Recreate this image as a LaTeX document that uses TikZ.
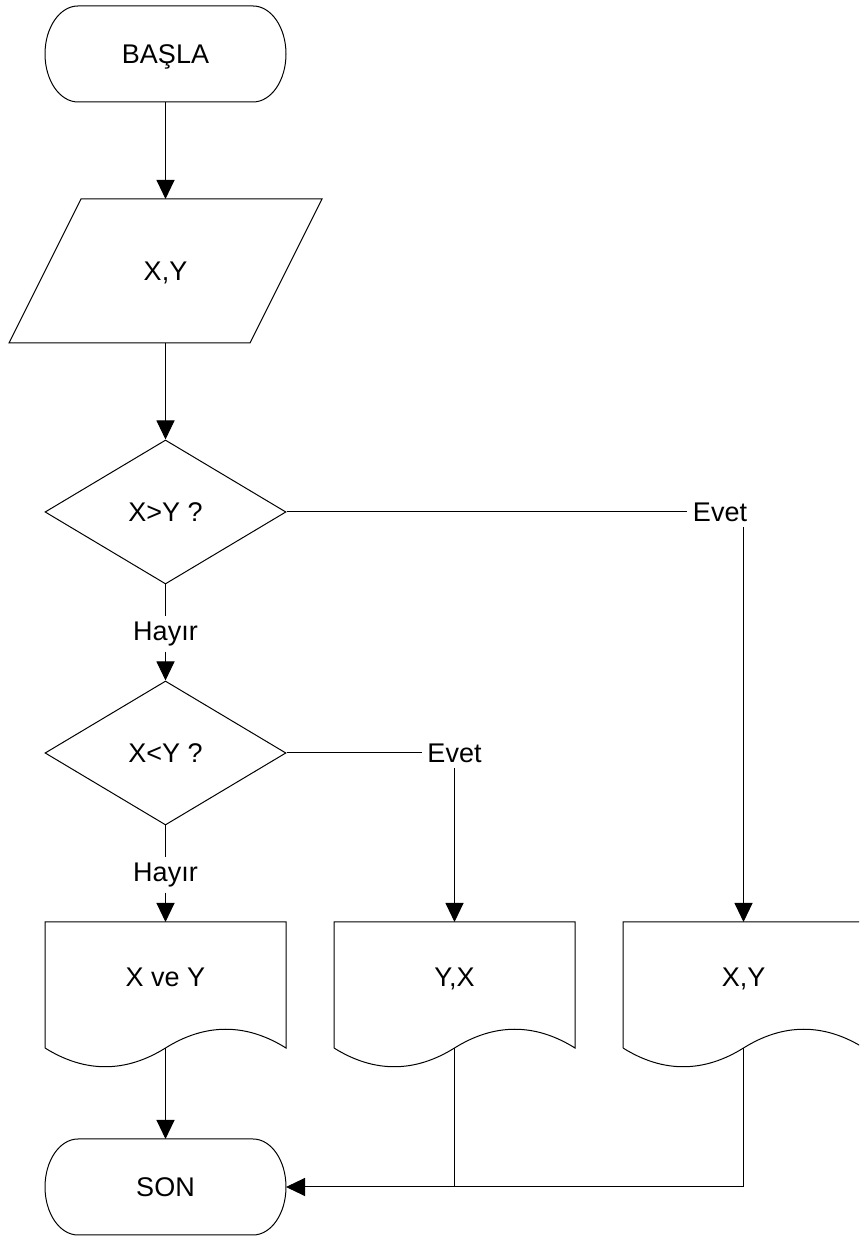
\documentclass[tikz,border=0pt]{standalone}
\usepackage{fontspec}
\setmainfont{Liberation Sans}
\usetikzlibrary{arrows.meta,shapes.geometric}

\tikzset{
	box/.style={rectangle,outer sep=0pt,inner sep=0pt,minimum width=241pt,text height=19.5pt,text depth=0pt},
	term/.style={box,minimum height=96pt},
	inbox/.style={box,minimum height=144pt},
	docbox/.style={box,minimum height=110pt},
	decision/.style={diamond,draw,inner sep=0pt,minimum width=241pt,minimum height=144pt},
	answer/.style={inner sep=5pt},
	flow/.style={-{Triangle[length=19pt,width=18pt]}}
}

\begin{document}
\begin{tikzpicture}[x=1pt,y=1pt,line width=1pt,font=\fontsize{27}{32}\selectfont]
		\clip (0,0) rectangle (859,1236);
%		\draw[help lines] (0,0) grid[step=50] (859,1236);
		\path (165.5,1182) coordinate (start);
		\path (165.5,965) coordinate (input);
		\path (165.5,724) coordinate (test1);
		\path (720,724) coordinate (yes1);
		\path (165.5,602) coordinate (no1);
		\path (165.5,483) coordinate (test2);
		\path (454.5,483) coordinate (yes2);
		\path (165.5,361) coordinate (no2);
		\path (165.5,259) coordinate (out1);
		\path (454.5,259) coordinate (out2);
		\path (743.5,259) coordinate (out3);
		\path (165.5,49) coordinate (stop);

		\draw (start) node[term] (basla) {BAŞLA};
		\draw (input) node[inbox] (xy) {X,Y};
		\draw (test1) node[decision] (dec1) {X>Y ?};
		\draw (yes1) node[answer] (evet1) {Evet};
		\draw (no1) node[answer] (hayir1) {Hayır};
		\draw (test2) node[decision] (dec2) {X<Y ?};
		\draw (yes2) node[answer] (evet2) {Evet};
		\draw (no2) node[answer] (hayir2) {Hayır};
		\draw (out1) node[docbox] (d1) {X ve Y};
		\draw (out2) node[docbox] (d2) {Y,X};
		\draw (out3) node[docbox] (d3) {X,Y};
		\draw (stop) node[term] (son) {SON};

		% outlines
		\foreach \n in {basla,son}
			\draw ([xshift=33pt]\n.north west) -- ([xshift=-33pt]\n.north east)
				arc[start angle=90,end angle=-90,x radius=33pt,y radius=48pt]
				-- ([xshift=33pt]\n.south west)
				arc[start angle=270,end angle=90,x radius=33pt,y radius=48pt] -- cycle;
		\draw ([xshift=36pt]xy.north west) -- ([xshift=36pt]xy.north east)
			-- ([xshift=-36pt]xy.south east) -- ([xshift=-36pt]xy.south west) -- cycle;
		\foreach \n in {d1,d2,d3} {
			\path ([yshift=-16pt]\n.south) coordinate (\n_w);
			\draw ([yshift=-16pt]\n.south west) -- (\n.north west) -- (\n.north east)
				-- ([yshift=-16pt]\n.south east)
				.. controls +(-40,25) and +(40,25) .. (\n_w)
				.. controls +(-40,-25) and +(40,-25) .. ([yshift=-16pt]\n.south west);
		}

		% connectors
		\draw[flow] (basla) -- (xy);
		\draw[flow] (xy) -- (dec1);
		\draw (dec1.east) -- (evet1.west);
		\draw[flow] (evet1.south -| d3.north) -- (d3.north);
		\draw (dec1) -- (hayir1);
		\draw[flow] (hayir1) -- (dec2);
		\draw (dec2.east) -- (evet2.west);
		\draw[flow] (evet2) -- (d2);
		\draw (dec2) -- (hayir2);
		\draw[flow] (hayir2) -- (d1);
		\draw[flow] (d1_w) -- (son);
		\draw (d2_w) -- (d2_w |- son.east);
		\draw[flow] (d3_w) |- (son.east);
	\end{tikzpicture}
\end{document}
